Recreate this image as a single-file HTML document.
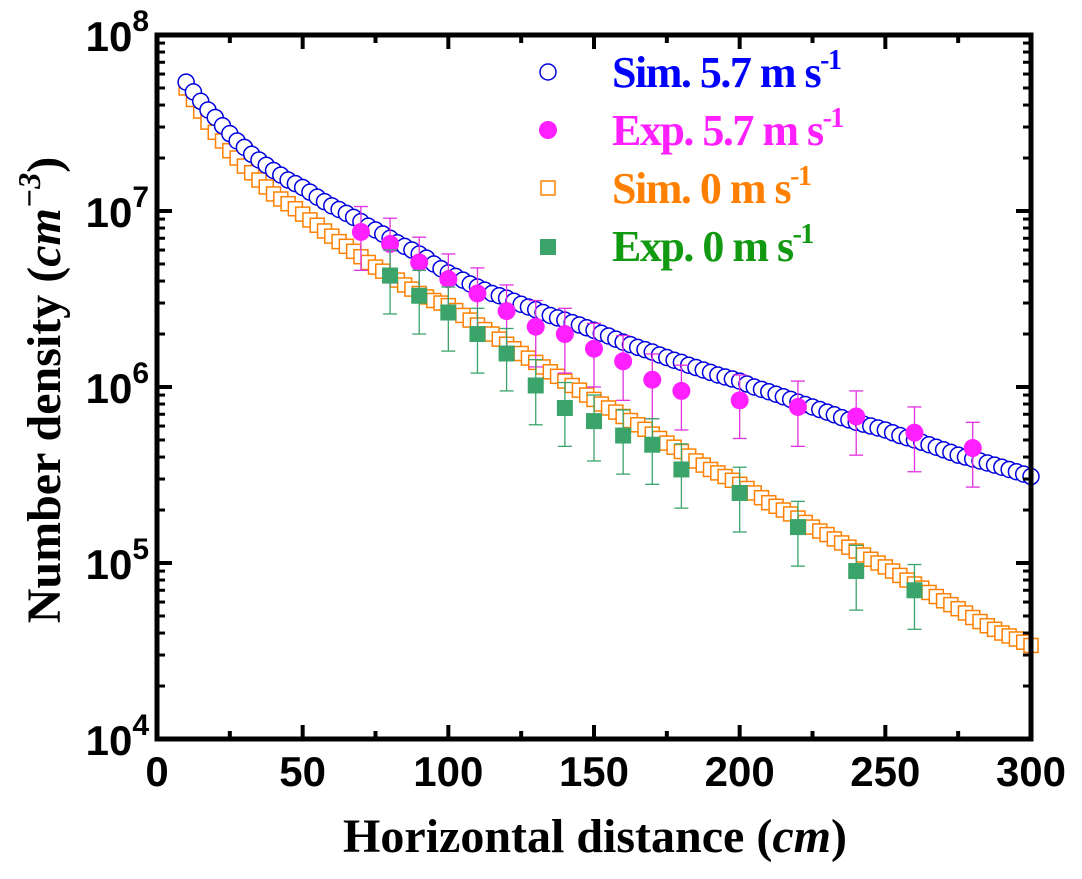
<!DOCTYPE html>
<html><head><meta charset="utf-8"><style>
body{margin:0;background:#fff}
svg text{font-weight:bold}
.tk{font-family:"Liberation Sans",sans-serif;font-size:42px}
.tt{font-family:"Liberation Serif",serif;font-size:48px}
.lg{font-family:"Liberation Serif",serif;font-size:44px;letter-spacing:-1.5px}
</style></head><body>
<svg id="c" width="1082" height="874" xmlns="http://www.w3.org/2000/svg">
<g id="marks"></g>
<g id="axes"></g>
<text class="tt" x="595" y="852" text-anchor="middle">Horizontal distance (<tspan font-style="italic">cm</tspan>)</text>
<text class="tt" transform="translate(60,390) rotate(-90)" text-anchor="middle">Number density (<tspan font-style="italic">cm</tspan><tspan font-size="32" dy="-20" font-style="italic">−3</tspan><tspan dy="20">)</tspan></text>
<g>
<circle cx="548" cy="72" r="8" fill="none" stroke="#0000e0" stroke-width="1.5"/>
<text class="lg" x="612" y="87" fill="#0000ff">Sim. 5.7 m s<tspan font-size="28" dy="-18">-1</tspan></text>
<circle cx="548" cy="130" r="9" fill="#ff1fff"/>
<text class="lg" x="612" y="145" fill="#ff1fff">Exp. 5.7 m s<tspan font-size="28" dy="-18">-1</tspan></text>
<rect x="541" y="181" width="14" height="14" fill="none" stroke="#ff8000" stroke-width="1.5"/>
<text class="lg" x="612" y="203" fill="#ff8000">Sim. 0 m s<tspan font-size="28" dy="-18">-1</tspan></text>
<rect x="540" y="239" width="16" height="16" fill="#3aa46a"/>
<text class="lg" x="612" y="261" fill="#119911">Exp. 0 m s<tspan font-size="28" dy="-18">-1</tspan></text>
</g>
</svg>
<script>
const simFast=[5.4e7,4.75e7,4.2e7,3.75e7,3.4e7,3.05e7,2.75e7,2.5e7,2.3e7,2.1e7,1.95e7,1.82e7,1.7e7,1.6e7,1.5e7,1.43e7,1.36e7,1.28e7,1.2e7,1.13e7,1.07e7,1.02e7,9.7e6,9.2e6,8.7e6,8.2e6,7.8e6,7.4e6,7.0e6,6.6e6,6.3e6,6.0e6,5.7e6,5.4e6,5.0e6,4.7e6,4.45e6,4.25e6,4.05e6,3.85e6,3.7e6,3.55e6,3.4e6,3.3e6,3.2e6,3.07e6,2.95e6,2.85e6,2.75e6,2.65e6,2.55e6,2.47e6,2.4e6,2.32e6,2.25e6,2.17e6,2.1e6,2.02e6,1.95e6,1.87e6,1.8e6,1.74e6,1.68e6,1.63e6,1.58e6,1.52e6,1.47e6,1.42e6,1.38e6,1.33e6,1.29e6,1.25e6,1.21e6,1.17e6,1.14e6,1.11e6,1.08e6,1.04e6,1.0e6,9.7e5,9.4e5,9.1e5,8.8e5,8.5e5,8.2e5,7.95e5,7.7e5,7.45e5,7.2e5,6.95e5,6.7e5,6.5e5,6.3e5,6.15e5,6.0e5,5.85e5,5.7e5,5.5e5,5.3e5,5.15e5,5.0e5,4.85e5,4.7e5,4.55e5,4.4e5,4.25e5,4.1e5,4.0e5,3.9e5,3.8e5,3.7e5,3.6e5,3.5e5,3.4e5,3.3e5,3.2e5,3.1e5];
const simStill=[5.0e7,4.3e7,3.7e7,3.2e7,2.8e7,2.5e7,2.2e7,2.0e7,1.8e7,1.65e7,1.5e7,1.37e7,1.25e7,1.17e7,1.1e7,1.03e7,9.6e6,8.9e6,8.3e6,7.7e6,7.2e6,6.7e6,6.3e6,5.9e6,5.5e6,5.1e6,4.8e6,4.55e6,4.3e6,4.05e6,3.8e6,3.6e6,3.4e6,3.25e6,3.1e6,3.0e6,2.9e6,2.72e6,2.55e6,2.4e6,2.25e6,2.12e6,2.0e6,1.87e6,1.75e6,1.65e6,1.55e6,1.46e6,1.38e6,1.3e6,1.22e6,1.15e6,1.08e6,1.02e6,9.6e5,9.0e5,8.5e5,8.0e5,7.6e5,7.2e5,6.8e5,6.45e5,6.1e5,5.75e5,5.4e5,5.1e5,4.8e5,4.55e5,4.3e5,4.05e5,3.8e5,3.6e5,3.4e5,3.25e5,3.1e5,2.95e5,2.8e5,2.65e5,2.5e5,2.35e5,2.2e5,2.1e5,2.0e5,1.9e5,1.8e5,1.7e5,1.6e5,1.52e5,1.45e5,1.37e5,1.3e5,1.23e5,1.17e5,1.11e5,1.05e5,1.0e5,9.5e4,9.0e4,8.5e4,8.0e4,7.6e4,7.2e4,6.8e4,6.45e4,6.1e4,5.8e4,5.5e4,5.2e4,4.9e4,4.65e4,4.4e4,4.2e4,4.0e4,3.85e4,3.7e4,3.55e4,3.4e4];
const simX=simFast.map((_,i)=>10+2.5*i);
const expFastX=[70,80,90,100,110,120,130,140,150,160,170,180,200,220,240,260,280];
const expFast=[7.6e6,6.5e6,5.1e6,4.1e6,3.4e6,2.7e6,2.2e6,2.0e6,1.65e6,1.4e6,1.1e6,9.5e5,8.4e5,7.7e5,6.8e5,5.5e5,4.5e5];
const expFastErr=[3.0e6,2.6e6,2.0e6,1.6e6,1.35e6,1.1e6,0.9e6,0.8e6,0.65e6,0.56e6,0.44e6,0.38e6,0.33e6,0.31e6,0.27e6,0.22e6,0.18e6];
const expStillX=[80,90,100,110,120,130,140,150,160,170,180,200,220,240,260];
const expStill=[4.3e6,3.3e6,2.65e6,2.0e6,1.55e6,1.02e6,7.6e5,6.4e5,5.3e5,4.7e5,3.4e5,2.5e5,1.6e5,9e4,7e4];
const expStillErr=[1.7e6,1.3e6,1.05e6,0.8e6,0.6e6,0.41e6,0.3e6,0.26e6,0.21e6,0.19e6,0.135e6,0.1e6,0.064e6,0.036e6,0.028e6];
const xTicks=[0,50,100,150,200,250,300];
const yExp=[4,5,6,7,8];

const L=157,R=1031,T=35,B=739;
const X=v=>L+(v/300)*(R-L);
const Y=v=>T+(8-Math.log10(v))*(B-T)/4;
const NS='http://www.w3.org/2000/svg';
const marks=document.getElementById('marks'),axes=document.getElementById('axes');
function mk(tag,attrs,parent){const e=document.createElementNS(NS,tag);for(const k in attrs)e.setAttribute(k,attrs[k]);parent.appendChild(e);return e;}

simX.forEach((x,i)=>{const e=mk('rect',{x:X(x)-7,y:Y(simStill[i])-7,width:14,height:14,fill:'#fff',stroke:'#ff8000','stroke-width':1.5},marks);

});
simX.forEach((x,i)=>{const e=mk('circle',{cx:X(x),cy:Y(simFast[i]),r:8,fill:'#fff',stroke:'#0000e0','stroke-width':1.5},marks);

});
function errbar(x,v,err,col){const g=mk('g',{stroke:col,'stroke-width':1.3},marks);
mk('line',{x1:X(x),x2:X(x),y1:Y(v+err),y2:Y(Math.max(v-err,1))},g);
mk('line',{x1:X(x)-7,x2:X(x)+7,y1:Y(v+err),y2:Y(v+err)},g);
mk('line',{x1:X(x)-7,x2:X(x)+7,y1:Y(v-err),y2:Y(v-err)},g);

}
expFastX.forEach((x,i)=>{errbar(x,expFast[i],expFastErr[i],'#e030e0');
const e=mk('circle',{cx:X(x),cy:Y(expFast[i]),r:9,fill:'#ff1fff'},marks);

});
expStillX.forEach((x,i)=>{errbar(x,expStill[i],expStillErr[i],'#3aa46a');
const e=mk('rect',{x:X(x)-8,y:Y(expStill[i])-8,width:16,height:16,fill:'#3aa46a'},marks);

});

const fr=mk('rect',{x:L,y:T,width:R-L,height:B-T,fill:'none',stroke:'#000','stroke-width':5},axes);


for(let v=0;v<=300;v+=25){const maj=v%50===0,len=maj?14:8;
mk('line',{x1:X(v),x2:X(v),y1:B,y2:B-len,stroke:'#000','stroke-width':4},axes);
mk('line',{x1:X(v),x2:X(v),y1:T,y2:T+len,stroke:'#000','stroke-width':4},axes);}
xTicks.forEach(v=>{const t=mk('text',{x:X(v),y:B+47,'text-anchor':'middle',class:'tk'},axes);t.textContent=v;

});
yExp.forEach(p=>{const y=Y(Math.pow(10,p));
mk('line',{x1:L,x2:L+15,y1:y,y2:y,stroke:'#000','stroke-width':4},axes);
mk('line',{x1:R,x2:R-15,y1:y,y2:y,stroke:'#000','stroke-width':4},axes);
if(p<8)for(let m=2;m<=9;m++){const ym=Y(m*Math.pow(10,p));
mk('line',{x1:L,x2:L+8,y1:ym,y2:ym,stroke:'#000','stroke-width':3},axes);
mk('line',{x1:R,x2:R-8,y1:ym,y2:ym,stroke:'#000','stroke-width':3},axes);}
const t=mk('text',{x:L-8,y:y+16,'text-anchor':'end',class:'tk'},axes);
t.innerHTML='10<tspan font-size="30" dy="-20">'+p+'</tspan>';

});
</script>
</body></html>
